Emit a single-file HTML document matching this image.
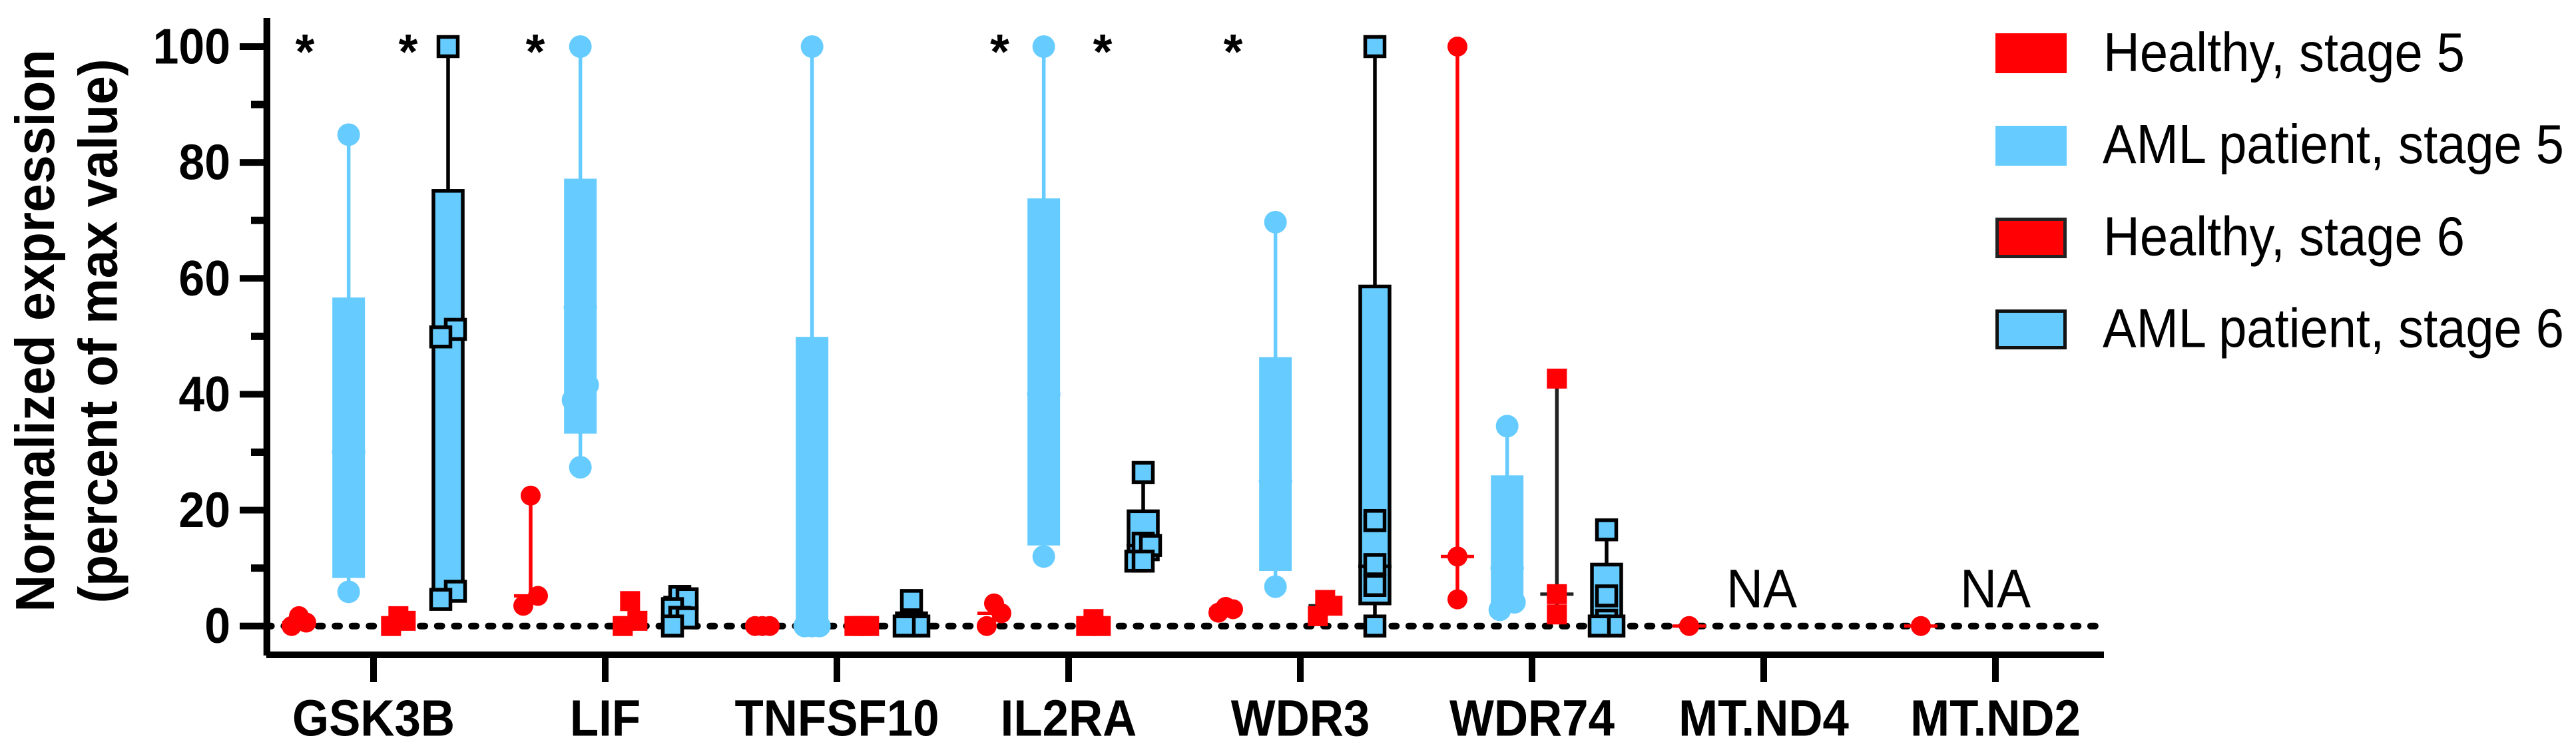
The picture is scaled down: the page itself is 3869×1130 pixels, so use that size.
<!DOCTYPE html>
<html lang="en">
<head>
<meta charset="utf-8">
<title>Normalized expression chart</title>
<style>
html,body{margin:0;padding:0;background:#fff;}
svg{display:block;}
text{font-family:"Liberation Sans",Arial,sans-serif;fill:#000;}
.bold{font-weight:bold;}
</style>
</head>
<body>
<svg id="chart" xmlns="http://www.w3.org/2000/svg" width="3869" height="1130" viewBox="0 0 3869 1130">
  <rect x="0" y="0" width="3869" height="1130" fill="#fff"/>

  <text class="bold" font-size="83" text-anchor="middle" transform="translate(81,497) rotate(-90)" textLength="845" lengthAdjust="spacingAndGlyphs">Normalized expression</text>
  <text class="bold" font-size="82" text-anchor="middle" transform="translate(175.7,497.5) rotate(-90)" textLength="818" lengthAdjust="spacingAndGlyphs">(percent of max value)</text>

  <g id="zero-line-layer"></g>
  <g id="marks"></g>
  <g id="axes"></g>

  <g font-size="74" font-weight="bold" text-anchor="middle">
    <text x="458" y="103">*</text>
    <text x="613" y="103">*</text>
    <text x="804" y="103">*</text>
    <text x="1501.5" y="103">*</text>
    <text x="1656" y="103">*</text>
    <text x="1852" y="103">*</text>
  </g>

  <text x="2646" y="912.5" font-size="82" text-anchor="middle" textLength="106" lengthAdjust="spacingAndGlyphs">NA</text>
  <text x="2997" y="912.5" font-size="82" text-anchor="middle" textLength="106" lengthAdjust="spacingAndGlyphs">NA</text>

  <g font-size="83">
    <g>
      <rect x="2997" y="50" width="107" height="60" fill="#ff0005"/>
      <text x="3159" y="107" textLength="543" lengthAdjust="spacingAndGlyphs">Healthy, stage 5</text>
    </g>
    <g>
      <rect x="2997" y="189" width="107" height="60" fill="#66ccff"/>
      <text x="3158" y="245" textLength="693" lengthAdjust="spacingAndGlyphs">AML patient, stage 5</text>
    </g>
    <g>
      <rect x="2999.5" y="329.5" width="102" height="56" fill="#ff0005" stroke="#222" stroke-width="5"/>
      <text x="3159" y="383.5" textLength="543" lengthAdjust="spacingAndGlyphs">Healthy, stage 6</text>
    </g>
    <g>
      <rect x="2999.5" y="467.5" width="102" height="55" fill="#66ccff" stroke="#111" stroke-width="5"/>
      <text x="3158" y="521.5" textLength="693" lengthAdjust="spacingAndGlyphs">AML patient, stage 6</text>
    </g>
  </g>
</svg>

<script>
// ---- chart data ----
const genes = ["GSK3B", "LIF", "TNFSF10", "IL2RA", "WDR3", "WDR74", "MT.ND4", "MT.ND2"];
const yMajorTicks = [0, 20, 40, 60, 80, 100];
const yMinorTicks = [10, 30, 50, 70, 90];

const h5Points = [[1.7, 0.6, 0], [22.5, 5.2, 3.5], [0, 0, 0], [3.9, 2.2, 0], [3.3, 2.9, 2.3], [100, 12, 4.6], [0], [0]];
const h5Q1 = [null, null, null, null, null, null, null, null];
const h5Q3 = [null, null, null, null, null, null, null, null];
const h5Median = [0.6, 5.2, 0, 2.2, 2.9, 12, 0, 0];

const a5Points = [[84.8, 5.9], [100, 41.6, 39, 27.4], [100, 0, 0, 0], [100, 12], [69.7, 6.8], [34.5, 4.1, 2.8], [], []];
const a5Q1 = [8.3, 33.2, 0, 13.9, 9.5, 3.5, null, null];
const a5Q3 = [56.7, 77.2, 49.9, 73.8, 46.4, 26, null, null];
const a5Median = [30, 55, 0, 40, 25, 10, null, null];

const h6Points = [[1.7, 0.9, 0], [4.3, 0.9, 0], [0, 0, 0], [1.2, 0, 0], [4.5, 3.5, 1.7], [42.7, 5.5, 2.0], [], []];
const h6Q1 = [null, null, null, null, null, null, null, null];
const h6Q3 = [null, null, null, null, null, null, null, null];
const h6Median = [0.9, 0.9, 0, 0, 3.5, 5.5, null, null];

const a6Points = [[100, 51.2, 49.9, 6, 4.6], [5.1, 4.7, 3, 1.5, 1.4, 0], [4.4, 0, 0, 0], [26.5, 14.3, 13.9, 11.2, 11.2], [100, 18.2, 10.6, 7, 0], [16.6, 5.2, 1, 0, 0], [], []];
const a6Q1 = [5, 0.7, 0, 11.5, 3.9, 0, null, null];
const a6Q3 = [75.1, 4.9, 2.2, 19.8, 58.6, 10.6, null, null];
const a6Median = [50, 2.2, 0, 13.9, 10.3, 1, null, null];

// ---- scales ----
const SVGNS = "http://www.w3.org/2000/svg";
function yScale(v) { return 940.7 - v * 8.707; }
function xCategory(i) { return 561 + i * 348; }
function xSeries(i, s) { return xCategory(i) + (s - 1.5) * 74.67; }

function make(tag, attrs, parent) {
  const n = document.createElementNS(SVGNS, tag);
  for (const k in attrs) n.setAttribute(k, attrs[k]);
  parent.appendChild(n);
  return n;
}

// Swarm layout: overlapping neighbours are spread sideways, like the plotting tool does.
function swarmOffsets(values) {
  const overlap = 3.45, spread = 11;
  const offsets = [];
  let start = 0;
  for (let i = 0; i <= values.length; i++) {
    if (i === values.length || (i > start && values[i - 1] - values[i] >= overlap)) {
      const n = i - start;
      for (let j = 0; j < n; j++) {
        if (n === 1) offsets.push(0);
        else if (n === 2) offsets.push(j === 0 ? spread : -spread);
        else offsets.push([0, spread, -spread][j % 3]);
      }
      start = i;
    }
  }
  return offsets;
}

const root = document.getElementById("marks");
const axes = document.getElementById("axes");
const zeroLayer = document.getElementById("zero-line-layer");

// ---- zero reference line ----
const zeroLine = make("line", { x1: 400.7, x2: 3152, y1: yScale(0), y2: yScale(0), stroke: "#000", "stroke-width": 10, "stroke-linecap": "round", "stroke-dasharray": "7 18.6" }, zeroLayer);



// ---- series ----
const RED = "#ff0005", BLUE = "#66ccff";
function drawSeries(s, slug, pts, q1, q3, med, fill, lineColor, outlined, marker) {
  genes.forEach(function (gene, i) {
    const cx = xSeries(i, s);
    const vals = pts[i].slice().sort(function (a, b) { return b - a; });
    const group = make("g", {}, root);
    
    

    if (vals.length > 1) {
      const whisker = make("line", { x1: cx, x2: cx, y1: yScale(vals[0]), y2: yScale(vals[vals.length - 1]), stroke: lineColor, "stroke-width": 5.5 }, group);
      
      
    }
    if (q1[i] !== null && q3[i] !== null) {
      const top = yScale(q3[i]), bot = yScale(q1[i]);
      const box = outlined
        ? make("rect", { x: cx - 22, y: top, width: 44, height: bot - top, fill: fill, stroke: lineColor, "stroke-width": 5.5 }, group)
        : make("rect", { x: cx - 24.5, y: top, width: 49, height: bot - top, fill: fill }, group);
      
      
    }
    if (med[i] !== null) {
      const medianLine = make("line", { x1: cx - 25, x2: cx + 25, y1: yScale(med[i]), y2: yScale(med[i]), stroke: lineColor, "stroke-width": 5 }, group);
      
      
    }
    const offs = swarmOffsets(vals);
    vals.forEach(function (v, k) {
      const px = cx + offs[k], py = yScale(v);
      let m;
      if (marker === "circle-red") m = make("circle", { cx: px, cy: py, r: 15, fill: fill }, group);
      else if (marker === "circle-blue") m = make("circle", { cx: px, cy: py, r: 17, fill: fill }, group);
      else if (marker === "square-red") m = make("rect", { x: px - 15, y: py - 15, width: 30, height: 30, fill: fill }, group);
      else m = make("rect", { x: px - 14.5, y: py - 14.5, width: 29, height: 29, fill: fill, stroke: "#000", "stroke-width": 5.5 }, group);
      
      
    });
  });
}
drawSeries(0, "healthy-stage-5", h5Points, h5Q1, h5Q3, h5Median, RED, RED, false, "circle-red");
drawSeries(1, "aml-stage-5", a5Points, a5Q1, a5Q3, a5Median, BLUE, BLUE, false, "circle-blue");
drawSeries(2, "healthy-stage-6", h6Points, h6Q1, h6Q3, h6Median, RED, "#222", false, "square-red");
drawSeries(3, "aml-stage-6", a6Points, a6Q1, a6Q3, a6Median, BLUE, "#000", true, "square-blue");

// ---- axes ----
const yAxisLine = make("rect", { x: 395.7, y: 27, width: 10.3, height: 958, fill: "#000" }, axes);



const xAxisLine = make("rect", { x: 400, y: 979, width: 2760, height: 10, fill: "#000" }, axes);



yMajorTicks.forEach(function (t) {
  const tick = make("rect", { x: 360, y: yScale(t) - 5, width: 40, height: 10, fill: "#000" }, axes);
  
  
  const label = make("text", { transform: "translate(346," + (yScale(t) + 25.5) + ") scale(0.93,1)", "text-anchor": "end", "font-size": 75, "font-weight": "bold" }, axes);
  label.textContent = String(t);
  
  
});
yMinorTicks.forEach(function (t) {
  const tick = make("rect", { x: 377, y: yScale(t) - 5.5, width: 23, height: 11, fill: "#000" }, axes);
  
  
});
genes.forEach(function (gene, i) {
  const tick = make("rect", { x: xCategory(i) - 5, y: 989, width: 10, height: 36, fill: "#000" }, axes);
  
  
  const label = make("text", { transform: "translate(" + xCategory(i) + ",1105.5) scale(0.92,1)", "text-anchor": "middle", "font-size": 77, "font-weight": "bold" }, axes);
  label.textContent = gene;
  
  
});
</script>
</body>
</html>
